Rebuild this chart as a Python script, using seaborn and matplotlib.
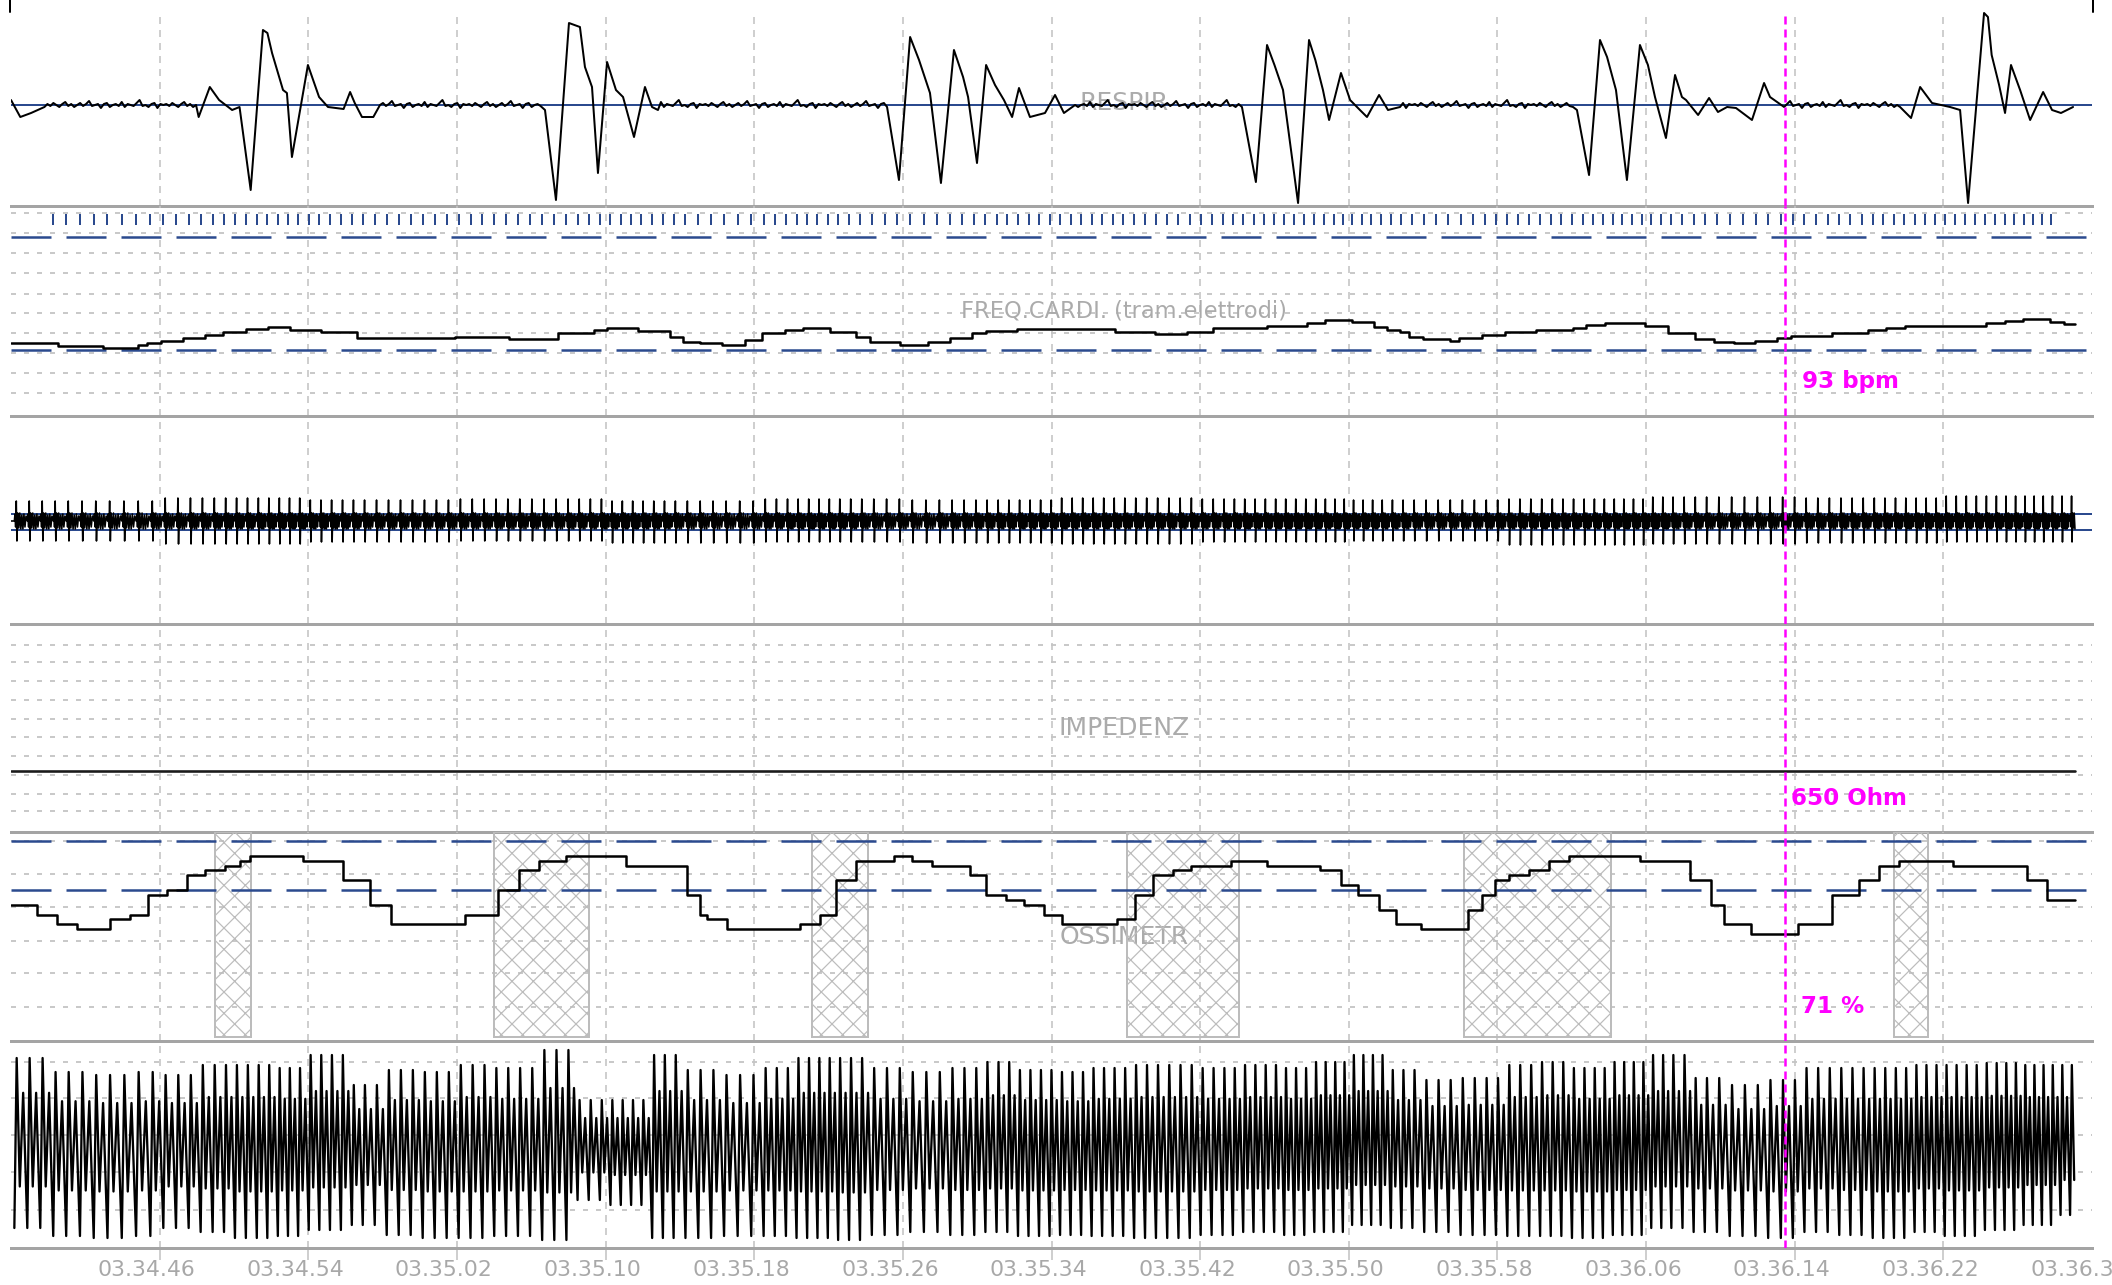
import numpy as np
import pandas as pd
import matplotlib
matplotlib.use("Agg")
import matplotlib.pyplot as plt
from matplotlib.lines import Line2D
from matplotlib.transforms import ScaledTranslation, blended_transform_factory
import seaborn as sns

# ------------------------------------------------------------------ data
CLOCK_START = (3, 34, 38)      # hh, mm, ss at the left edge of the window
WINDOW_S = 112.0
TRACE_END_S = 111.1
CURSOR_T = 95.5

# respiratory flow (arbitrary units, 0 = resting baseline), breakpoints
RESP_T = [0.0, 0.5, 1.08, 1.8,
          10.1, 10.7, 11.2, 11.9, 12.3, 12.9, 13.56, 13.8, 14.05, 14.64, 14.85, 15.12,
          15.98, 16.58, 17.06, 17.9, 18.25, 18.5, 18.89, 19.5, 19.86,
          28.74, 29.33, 30.03, 30.62, 30.89, 31.27, 31.59, 32.08, 32.56, 32.94, 33.53,
          34.12, 34.5, 34.82,
          47.15, 47.79, 48.39, 48.87, 49.46, 50.05, 50.75, 51.24, 51.51, 51.99, 52.48,
          52.96, 53.44, 53.88, 54.25, 54.84, 55.65, 56.19, 56.67, 57.27,
          66.25, 67.0, 67.6, 68.0, 68.46, 69.27, 69.86, 70.2, 70.61, 70.94, 71.58, 72.07,
          72.6, 72.98, 73.63, 74.11, 74.76,
          84.07, 84.28, 84.93, 85.52, 85.9, 86.38, 86.97, 87.67, 88.1, 88.48, 89.07, 89.56,
          89.93, 90.15, 90.8, 91.39, 91.87, 92.36, 92.84, 93.7, 94.35, 94.67, 95.05, 95.43,
          101.67, 102.26, 102.75, 103.39, 104.36, 104.9, 105.33, 106.19, 106.4, 106.6,
          107.0, 107.32, 107.64, 108.13, 108.67, 109.37, 109.85, 110.33, 110.98]
RESP_A = [5, -12, -8, -2,
          -12, 18, 5, -5, -2, -85, 75, 72, 52, 15, 12, -52,
          40, 8, -2, -4, 13, 2, -12, -12, 0,
          -5, -95, 82, 78, 38, 18, -68, 43, 15, 8, -32,
          18, -2, -5,
          -2, -75, 68, 45, 12, -78, 55, 28, 8, -58, 40,
          20, 5, -12, 17, -12, -8, 10, -8, 0,
          -2, -77, 60, 40, 15, -98, 65, 45, 15, -15, 32, 5,
          -5, -12, 10, -5, -2,
          -2, -5, -70, 65, 48, 15, -75, 60, 40, 8, -33, 30,
          8, 5, -10, 7, -7, -2, -3, -15, 22, 8, 3, -2,
          -2, -13, 18, 2, -2, -5, -98, 92, 88, 50,
          20, -8, 40, 15, -15, 13, -5, -8, -2]
# small ripple of the quiet breathing baseline
RESP_RIPPLE = [1, -1, 2, 0, -2, 1, 3, -1, 1, -2, 0, 2, -1, 1, 4, -1, 0, 1, -3, 1,
               2, -2, 0, 1, -1, 3, -2, 1, 0, -1, 2, 5, -1, 0, -2, 1, 2, -3, 1, 0]

# heart rate (bpm), step changes
HR_T = [0.0, 2.53, 4.95, 6.84, 7.32, 8.07, 9.26, 10.44, 11.41, 12.65, 13.83, 15.02, 16.68,
        18.62, 23.9, 26.8, 29.44, 31.38, 32.08, 33.75, 35.47, 36.17, 37.08, 38.27, 39.5,
        40.42, 41.66, 42.63, 44.08, 45.48, 46.23, 47.85, 49.35, 50.54, 51.72, 52.48, 54.14,
        59.42, 61.57, 63.29, 64.69, 67.6, 69.75, 70.72, 72.17, 73.36, 74.06, 74.76, 75.24,
        76.0, 77.45, 77.93, 79.17, 80.41, 82.08, 84.07, 84.77, 85.79, 87.94, 89.18, 90.63,
        91.66, 92.73, 93.86, 95.05, 95.8, 98.01, 99.95, 100.92, 101.94, 106.3, 107.32,
        108.29, 109.74, 110.5]
HR_BPM = [86, 81, 78, 82, 86, 88, 93, 98, 102, 106, 110, 105, 102,
          93, 94, 92, 100, 105, 108, 104, 94, 87, 86, 82, 90,
          100, 105, 108, 102, 94, 87, 82, 87, 93, 100, 104, 106,
          102, 99, 102, 108, 111, 116, 120, 117, 110, 105, 102, 94,
          92, 88, 93, 98, 102, 105, 108, 112, 116, 111, 100, 92,
          87, 86, 88, 93, 96, 100, 105, 108, 111, 116, 118,
          122, 117, 114]
FIRST_BEAT_T = 0.18
MARKED_BEATS = (1.7, 110.3)      # span of the detected-beat markers

# ECG: R / S amplitude per 8 s block, and the shape of one beat
ECG_R = [20, 23, 21, 22, 20, 22, 21, 23, 22, 21, 22, 24, 23, 25]
ECG_S = [-20, -23, -21, -20, -22, -21, -22, -23, -21, -20, -24, -23, -22, -21]
ECG_BEAT = [(0.00, 0), (0.05, 7), (0.10, -6), (0.15, "R"), (0.20, "S"), (0.26, 8),
            (0.34, -7), (0.42, 8), (0.50, -8), (0.58, 6), (0.66, -8), (0.74, 7),
            (0.82, -6), (0.90, 5)]

# thoracic impedance (Ohm)
IMP_T = [0.0, TRACE_END_S]
IMP_OHM = [650, 650]

# SpO2 (%), step changes
SPO2_T = [0.0, 1.4, 2.5, 3.55, 5.33, 6.4, 7.37, 8.4, 9.47, 10.44, 11.52, 12.33, 12.86,
          15.72, 17.87, 19.32, 20.45, 24.43, 26.21, 27.34, 28.42, 29.87, 33.1, 36.38,
          37.08, 37.46, 38.54, 42.47, 43.54, 44.4, 45.48, 47.52, 48.49, 49.57, 51.61,
          52.48, 53.55, 54.52, 55.6, 56.57, 59.53, 60.5, 61.46, 62.54, 63.51, 65.66, 67.6,
          70.45, 71.58, 72.5, 73.63, 74.54, 75.89, 78.42, 79.17, 79.87, 80.62, 81.7, 82.78,
          83.85, 87.67, 90.37, 91.5, 92.2, 93.65, 96.18, 98.01, 99.46, 100.54, 101.61,
          104.52, 108.5, 109.58]
SPO2_PCT = [77, 75, 73, 72, 74, 75, 79, 80, 83, 84, 85, 86, 87,
            86, 82, 77, 73, 75, 80, 84, 86, 87, 85, 79,
            75, 74, 72, 73, 75, 82, 86, 87, 86, 85, 83,
            79, 78, 77, 75, 73, 74, 79, 83, 84, 85, 86, 85,
            84, 81, 79, 76, 73, 72, 76, 79, 82, 83, 84, 86,
            87, 86, 82, 77, 73, 71, 73, 79, 82, 85, 86,
            85, 82, 78]

# desaturation events (s)
DESAT_START = [10.98, 26.0, 43.11, 60.06, 78.2, 101.35]
DESAT_END = [12.92, 31.11, 46.12, 66.09, 86.11, 103.18]

# plethysmogram envelope per 2 s block (arbitrary units) and beat shape
PLETH_TOP = [87, 73, 70, 73, 70, 80, 80, 77, 90, 60, 75, 73, 80, 77, 95, 45, 45, 90, 75, 70,
             77, 87, 87, 77, 73, 77, 83, 75, 73, 77, 80, 80, 77, 80, 77, 83, 90, 75, 65, 67,
             80, 83, 77, 83, 90, 67, 60, 65, 77, 77, 77, 80, 80, 82, 80, 80]
PLETH_BOTTOM = [-83, -91, -93, -91, -83, -87, -93, -91, -85, -80, -90, -93, -93, -91, -95,
                -55, -60, -93, -93, -91, -91, -93, -95, -90, -87, -90, -87, -91, -90, -91,
                -93, -93, -90, -87, -90, -87, -80, -83, -87, -90, -91, -91, -93, -90, -83,
                -87, -91, -93, -87, -90, -93, -87, -91, -85, -80, -70]
PLETH_BEAT = [(0.00, "bottom", 1.0), (0.18, "top", 1.0), (0.42, "bottom", 0.5),
              (0.68, "top", 0.6)]

PANEL_TITLES = ["RESPIR", "FREQ.CARDI. (tram.elettrodi)", None, "IMPEDENZ", "OSSIMETR", None]
TITLE_PX = [25, 22.5, 25, 25, 25, 25]

# ------------------------------------------------------------- layout
DPI = 64
W_PX, H_PX = 2112, 1285
PLOT_X0, PLOT_X1 = 11, 2092
PANEL_ROWS = [(0, 206), (206, 416), (416, 624), (624, 832), (832, 1041), (1041, 1248)]
YLIMS = [(-101, 105), (-24, 291), (-103, 105), (40, 2120), (49.18, 91.84), (-103, 104)]
GRID_ROWS = {1: [213, 233, 253, 273, 294, 313, 333, 353, 373, 393],
             3: [645, 662, 681, 700, 719, 737, 756, 775, 794, 811],
             4: [841, 874, 907, 941, 973, 1007],
             5: [1062, 1098, 1135, 1172, 1210]}
GRID_T = np.arange(8, WINDOW_S, 8)

BLACK = "#000000"
NAVY = "#2b4a8e"
GRID = "#c4c4c4"
SEPARATOR = "#a4a4a4"
LABEL = "#ababab"
MAGENTA = "#ff00ff"
FONT = {"family": ["DejaVu Sans"]}


def pt(px):
    return px * 72.0 / DPI


def step_value(ts, vs, t):
    i = int(np.searchsorted(ts, t, side="right")) - 1
    return vs[max(i, 0)]


def row_to_data(i, y_px):
    top, bot = PANEL_ROWS[i]
    lo, hi = YLIMS[i]
    return lo + (bot - y_px) / (bot - top) * (hi - lo)


sns.set_theme(style="white")
plt.rcParams["lines.scale_dashes"] = False
plt.rcParams["hatch.linewidth"] = pt(1.2)
plt.rcParams["font.family"] = ["DejaVu Sans"]

# ------------------------------------------------------ derived traces
# respiration: breakpoints plus baseline ripple during quiet breathing
RIPPLE_STEP = 0.16
resp_t, resp_a, k = [], [], 0
for i, (t0, a0) in enumerate(zip(RESP_T, RESP_A)):
    resp_t.append(t0)
    resp_a.append(a0)
    if i + 1 < len(RESP_T) and RESP_T[i + 1] - t0 > 1.5:
        t = t0 + RIPPLE_STEP
        while t < RESP_T[i + 1] - RIPPLE_STEP / 2:
            resp_t.append(t)
            resp_a.append(RESP_RIPPLE[k % len(RESP_RIPPLE)])
            k += 1
            t += RIPPLE_STEP
resp = pd.DataFrame({"t": resp_t, "flow": resp_a})

# beat times follow the heart-rate series
beats = [FIRST_BEAT_T]
while beats[-1] < TRACE_END_S + 1:
    beats.append(beats[-1] + 60.0 / step_value(HR_T, HR_BPM, beats[-1]))
beats = np.array(beats)

ecg_t, ecg_a = [0.0], [0.0]
pl_t, pl_a = [], []
for i in range(len(beats) - 1):
    tb, rr = beats[i], beats[i + 1] - beats[i]
    seg8 = min(int(tb // 8), len(ECG_R) - 1)
    for ph, lv in ECG_BEAT:
        val = ECG_R[seg8] if lv == "R" else ECG_S[seg8] if lv == "S" else lv
        ecg_t.append(tb + ph * rr)
        ecg_a.append(val)
    seg2 = min(int(tb // 2), len(PLETH_TOP) - 1)
    for ph, which, scale in PLETH_BEAT:
        base = PLETH_TOP[seg2] if which == "top" else PLETH_BOTTOM[seg2]
        pl_t.append(tb + ph * rr)
        pl_a.append(base * scale)
ecg = pd.DataFrame({"t": ecg_t, "mv": ecg_a})
ecg = ecg[ecg.t <= TRACE_END_S]
pleth = pd.DataFrame({"t": pl_t, "amp": pl_a})
pleth = pleth[pleth.t <= TRACE_END_S]

hr = pd.DataFrame({"t": HR_T + [TRACE_END_S], "bpm": HR_BPM + [HR_BPM[-1]]})
spo2 = pd.DataFrame({"t": SPO2_T + [TRACE_END_S], "pct": SPO2_PCT + [SPO2_PCT[-1]]})
imp = pd.DataFrame({"t": IMP_T, "ohm": IMP_OHM})

# ---------------------------------------------------------------- figure
fig = plt.figure(figsize=(W_PX / DPI, H_PX / DPI), dpi=DPI, facecolor="white")
axes = []
for i, ((top, bot), ylim) in enumerate(zip(PANEL_ROWS, YLIMS)):
    ax = fig.add_axes([PLOT_X0 / W_PX, 1 - bot / H_PX,
                       (PLOT_X1 - PLOT_X0) / W_PX, (bot - top) / H_PX])
    ax.set_facecolor("none")
    for side in ("top", "left", "right"):
        ax.spines[side].set_visible(False)
    ax.spines["bottom"].set_color(SEPARATOR)
    ax.spines["bottom"].set_linewidth(pt(3))
    ax.set_xticks([])
    ax.set_yticks([])
    ymax = (bot - 13) / (bot - top) if i == 0 else 1.0
    for t in GRID_T:
        ax.axvline(t, ymax=ymax, color=GRID, lw=pt(1.6), dashes=(pt(7), pt(6)), zorder=0.5)
    for y_px in GRID_ROWS.get(i, []):
        ax.axhline(row_to_data(i, y_px), color=GRID, lw=pt(1.8),
                   dashes=(pt(5), pt(8)), zorder=0.5)
    if PANEL_TITLES[i]:
        ax.text(0.535, 0.5, PANEL_TITLES[i], transform=ax.transAxes, ha="center",
                va="center", color=LABEL, fontsize=pt(TITLE_PX[i]), zorder=0.8, **FONT)
    ax.axvline(CURSOR_T, ymax=ymax, color=MAGENTA, lw=pt(2.5),
               dashes=(pt(8), pt(5)), zorder=6)
    axes.append(ax)

ax_resp, ax_hr, ax_ecg, ax_imp, ax_spo2, ax_pl = axes
common = dict(estimator=None, sort=False, legend=False, zorder=4)

# respiration
ax_resp.axhline(0, color=NAVY, lw=pt(2), zorder=3)
sns.lineplot(data=resp, x="t", y="flow", ax=ax_resp, color=BLACK, linewidth=pt(2), **common)

# heart rate with beat markers
for lvl in (75, 245):
    ax_hr.axhline(lvl, color=NAVY, lw=pt(2.5), dashes=(pt(40), pt(15)), zorder=3)
marked = beats[(beats >= MARKED_BEATS[0]) & (beats <= MARKED_BEATS[1])]
ax_hr.vlines(marked, 262, 279, color=NAVY, lw=pt(2), zorder=3)
sns.lineplot(data=hr, x="t", y="bpm", ax=ax_hr, color=BLACK, linewidth=pt(2.5),
             drawstyle="steps-post", **common)

# ECG
for lvl in (7, -9):
    ax_ecg.axhline(lvl, color=NAVY, lw=pt(2), zorder=3)
sns.lineplot(data=ecg, x="t", y="mv", ax=ax_ecg, color=BLACK, linewidth=pt(1.6), **common)

# impedance
sns.lineplot(data=imp, x="t", y="ohm", ax=ax_imp, color="#1a1a1a", linewidth=pt(2.6), **common)

# SpO2 with desaturation events
for s, e in zip(DESAT_START, DESAT_END):
    ax_spo2.axvspan(s, e, ymin=0.02, ymax=1.0, facecolor="none", edgecolor="#bcbcbc",
                    hatch="x", lw=pt(2), zorder=1)
for lvl in (90, 80):
    ax_spo2.axhline(lvl, color=NAVY, lw=pt(2.5), dashes=(pt(40), pt(15)), zorder=3)
sns.lineplot(data=spo2, x="t", y="pct", ax=ax_spo2, color=BLACK, linewidth=pt(2.5),
             drawstyle="steps-post", **common)

# plethysmogram
sns.lineplot(data=pleth, x="t", y="amp", ax=ax_pl, color=BLACK, linewidth=pt(2.3), **common)

for ax, ylim in zip(axes, YLIMS):
    ax.set_xlim(0, WINDOW_S)
    ax.set_ylim(*ylim)
    ax.set_xlabel("")
    ax.set_ylabel("")

# cursor read-outs
hr_now = step_value(HR_T, HR_BPM, CURSOR_T)
imp_now = step_value(IMP_T, IMP_OHM, CURSOR_T)
spo2_now = step_value(SPO2_T, SPO2_PCT, CURSOR_T)
for ax, txt, dx in ((ax_hr, f"{hr_now} bpm", 17), (ax_imp, f"{imp_now} Ohm", 6),
                    (ax_spo2, f"{spo2_now} %", 16)):
    tr = blended_transform_factory(ax.transData, ax.transAxes) + \
        ScaledTranslation(dx / DPI, 0, fig.dpi_scale_trans)
    ax.text(CURSOR_T, 0.163, txt, transform=tr, ha="left", va="center", color=MAGENTA,
            fontsize=pt(23), fontweight="bold", zorder=7, **FONT)

# time axis
ax_pl.set_xticks(GRID_T)
ax_pl.tick_params(axis="x", bottom=True, length=pt(12), width=pt(1.6), colors=GRID,
                  labelbottom=False, direction="out")
h0, m0, s0 = CLOCK_START
tr = blended_transform_factory(ax_pl.transData, ax_pl.transAxes) + \
    ScaledTranslation(-13 / DPI, 0, fig.dpi_scale_trans)
for t in np.arange(8, WINDOW_S + 1, 8):
    secs = h0 * 3600 + m0 * 60 + s0 + int(t)
    label = f"{secs // 3600:02d}.{secs % 3600 // 60:02d}.{secs % 60:02d}"
    ax_pl.text(t, -0.106, label, transform=tr, ha="center", va="center",
               color="#a8a8a8", fontsize=pt(22), clip_on=False, **FONT)

# frame corner marks
for xpx in (10, 2093):
    fig.add_artist(Line2D([xpx / W_PX] * 2, [1, 1 - 12 / H_PX], color=BLACK,
                          lw=pt(2), transform=fig.transFigure))

fig.savefig("out.png", dpi=DPI, facecolor="white")
